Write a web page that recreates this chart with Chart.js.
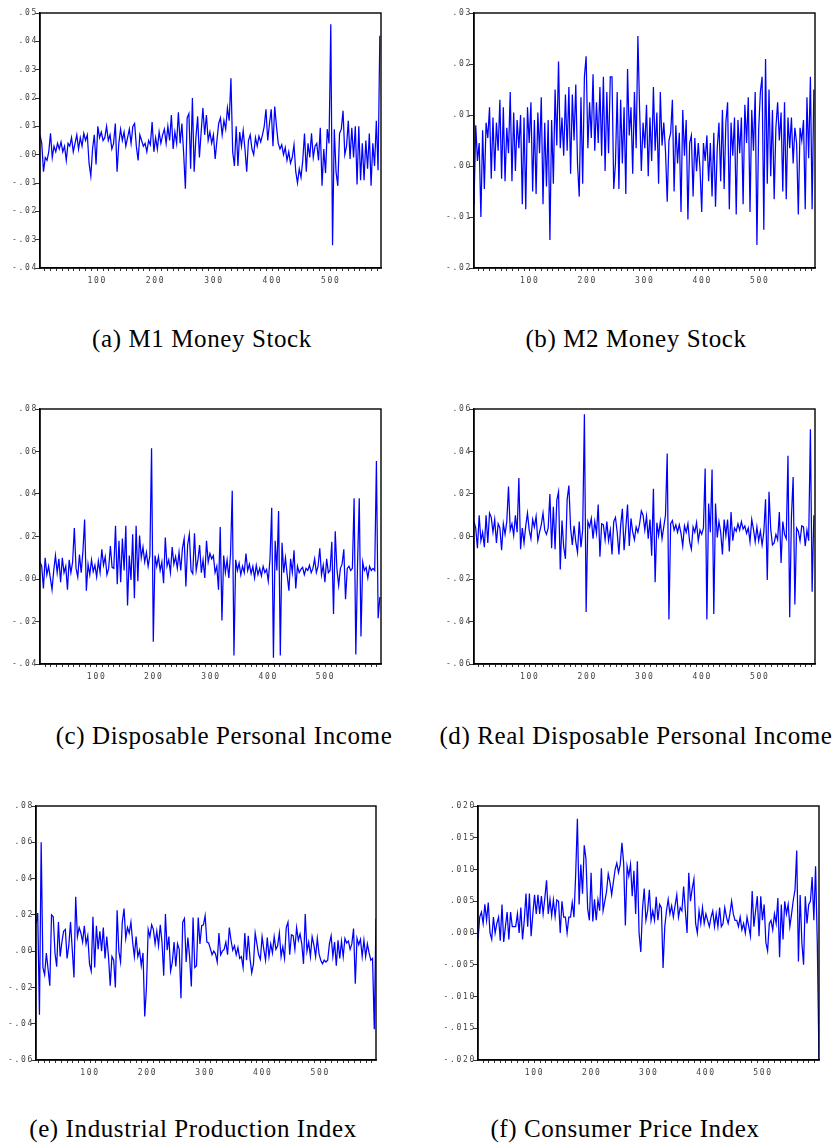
<!DOCTYPE html>
<html><head><meta charset="utf-8">
<script src="https://cdn.jsdelivr.net/npm/chart.js@4/dist/chart.umd.min.js"></script>
<style>
html,body{margin:0;padding:0;background:#fff;}
body{position:relative;width:839px;height:1146px;overflow:hidden;}
canvas{position:absolute;}
.cap{position:absolute;font-family:"Liberation Serif","Times New Roman",serif;font-size:25px;letter-spacing:0.6px;line-height:26px;white-space:nowrap;color:#000;transform:translateX(-50%);}
</style></head><body>
<script>
// ---- data: observation index (every 3rd month) and growth rates ----
const STEP = 3;
const xLabelTicks = [100, 200, 300, 400, 500];

const m1Start = 2;
const m1Values = [
.007,.004,-.006,-.001,-.002,.001,.0075,-.001,.003,.001,
.004,.002,.0045,.001,.003,-.002,.004,.003,.006,.001,
.004,.007,.002,.006,.003,.0075,.005,.007,-.003,-.0075,
.002,.007,-.0035,.01,.006,.008,.005,.006,.01,.005,
.007,.002,.004,.011,-.006,.004,.009,.005,.008,.003,
.006,.009,.004,.01,.011,.003,-.002,.007,.005,.003,
.004,.001,.005,.0035,.0115,.001,.006,.002,.008,.004,
.007,.009,.004,.01,.005,.014,.002,.008,.004,.015,
.004,.011,.0005,-.012,.013,.0145,-.005,.02,-.006,.006,
.0135,-.001,.008,.0165,.007,.014,.005,.008,.004,.007,
-.0015,.005,.011,.013,.007,.012,.009,.0165,.012,.027,
.001,-.004,.01,-.004,.008,.003,.0085,.002,-.006,.005,
.007,.002,0,.006,.003,.0065,.0045,.007,.01,.016,
.005,.011,.016,.003,.017,.01,.004,.002,.0035,0,
.0025,-.002,.001,-.003,-.001,.0035,-.006,-.01,-.005,-.008,
-.002,.0075,-.006,.004,-.001,.0075,-.001,.003,.004,-.002,
.0095,-.011,.002,-.0065,.009,.004,.046,-.032,.009,-.006,
-.011,.0075,.009,.0155,0,.003,.012,-.0015,.0095,-.001,
.01,-.0105,.01,-.009,.004,-.009,.005,-.005,.0075,-.011,
.004,-.004,.012,-.0055,.042
];

const m2Start = 3;
const m2Values = [
-.0075,.008,.001,.0045,-.01,.007,-.0045,.0085,.0055,.0115,
-.0025,.0095,-.001,.0085,.003,.013,-.0025,.0115,-.003,.0075,
.0025,.0145,-.003,.0105,-.001,.009,.0035,.01,-.0075,.0095,
-.0085,.0115,.0045,.0125,-.005,.009,-.0055,.0105,.0025,.0135,
-.0075,.0085,-.004,.009,-.0145,.009,-.0035,.015,.004,.0205,
.0035,.0095,.002,.014,.003,.0155,-.0015,.014,.005,.016,
.0005,-.006,.0135,-.0035,.0175,.0215,.0035,.0125,.0055,.018,
.003,.0125,.0045,.0155,.002,.0175,-.001,.0145,.0025,.0175,
.0175,-.0045,.0005,.0145,-.0045,.013,.0005,.0115,-.0055,.019,
.006,.0115,-.0015,.0145,.0035,.0255,.011,-.001,.0085,.0035,
.012,-.002,.0095,.001,.0155,.003,.0105,-.0035,.0145,.004,
.0085,.003,-.007,.005,.0065,.013,-.005,.008,.0005,.0065,
-.009,.011,.002,.009,-.0105,.0045,.006,-.006,.0055,-.001,
.0045,-.0005,-.009,.0045,.001,.006,-.003,.0045,-.006,.0065,
-.008,.0035,.0085,-.003,.011,-.0045,.0085,.0125,-.0085,.0085,
.002,.0095,-.0095,.009,.0025,.0095,-.0075,.012,.0045,.0135,
-.009,.011,.003,.0145,-.0155,.007,.0145,.0175,-.0125,.021,
-.0035,.015,-.002,.011,-.0065,.0075,.0125,.005,.0105,-.005,
.0125,-.0065,.0095,.0035,.0095,.0005,.0075,.0045,-.0095,.0075,
.005,.009,-.0085,.0135,.0015,.0175,-.0085,.015
];

const dpiStart = 1;
const dpiValues = [
.008,.006,-.0045,.01,.002,.006,.0005,-.005,.004,.011,
.003,.0095,-.0015,.01,.003,.006,-.005,.009,.003,.008,
.024,.005,.001,.0115,.003,.013,.028,-.0055,.007,.002,
.009,.0035,.0065,.001,.0085,.003,.014,.0065,.0105,.002,
.005,.0155,.0055,.005,.025,-.0025,.018,-.0015,.019,.004,
.025,-.0125,.011,-.0005,.021,-.009,.025,-.001,.0205,.01,
.015,.008,.0125,.006,.011,.0615,-.0295,.011,.006,.0105,
.004,.008,-.002,.0195,.006,.009,.003,.015,.007,.0105,
.005,.0125,.004,.0145,.019,-.0035,.016,.021,.004,.0025,
.0215,.004,.009,.016,.003,.009,.0005,.018,.008,.012,
.0095,.011,.003,.006,-.005,.0245,-.0195,.011,.003,.009,
.0005,.0115,.0415,-.036,.009,.004,.0075,.002,.006,.003,
.012,.004,.007,.0025,.006,.0005,.0065,.002,.005,.0015,
.006,.003,.0045,-.001,.0095,.0335,-.037,.018,.004,.032,
-.036,.017,.003,.01,.002,-.0055,.0095,.003,.0135,-.0045,
.006,.003,.0045,.0055,.002,.005,.004,.0065,.003,.005,
.0095,.003,.006,.0145,.002,.0065,-.0015,.0095,.003,.004,
.0175,-.0165,.0225,.0045,-.003,.005,.007,.014,-.0095,.005,
.006,.004,.005,.038,-.0355,.007,.038,-.027,.008,.004,
.0055,.0005,.006,.004,.005,.004,.0555,-.0185,-.0085
];

const rdpiStart = 3;
const rdpiValues = [
.007,.004,-.0055,.01,-.002,.002,-.005,.01,-.003,.011,
.009,.002,.008,-.003,.006,.004,-.0065,.006,.001,.007,
.0235,.003,.006,.0005,.01,.002,.0275,-.006,.004,-.003,
.005,.011,.003,-.001,.008,.0045,.0095,-.002,.002,.0055,
.011,.003,.001,.004,.02,-.0055,.014,-.006,.017,.021,
-.0155,.0075,-.005,-.0105,.0175,.024,.004,-.004,.005,-.0025,
-.0075,.007,-.005,.003,.0575,-.0355,.007,.0045,.0085,-.001,
.007,.0015,.015,-.0095,.006,.0055,-.0015,.007,-.002,.003,
-.0085,.007,.009,.002,-.0085,.005,.013,-.0065,.004,.015,
-.0045,.0085,.002,-.0015,.0045,.002,.006,.012,.01,.003,
.0095,-.001,.008,-.009,.0225,-.0215,.0065,.0005,.007,-.001,
.0045,.01,.039,-.039,.006,.0075,.003,.0055,.002,.0055,
.0015,-.0045,.005,.002,.006,-.0025,-.006,.0045,.002,.0065,
-.002,.003,.001,.004,.032,-.039,.0155,.002,.0315,-.0365,
.0155,-.0005,.007,.002,-.0085,.008,.0005,.008,-.007,.0115,
-.002,.004,.0025,.006,.003,.007,.0035,.005,.0015,.004,
-.0025,.008,.0035,-.0025,.0045,-.002,.0025,-.004,.002,.0175,
-.0205,.021,.0035,-.004,-.003,.001,-.0015,.0115,-.0125,.007,
.001,-.001,.038,-.038,.009,.028,-.032,.004,.0025,-.002,
.005,.0045,-.0045,.003,-.002,.0505,-.026,.01
];

const ipStart = 6;
const ipValues = [
.015,.021,-.035,.06,-.009,-.013,-.001,-.01,-.019,.02,
.019,-.001,-.0085,.016,-.003,.005,.011,.012,-.004,.003,
.016,.001,-.0145,.03,.008,.013,.01,.005,.014,.004,
.0085,-.007,-.011,.019,-.009,.014,.001,.011,0,.013,
-.004,.008,-.003,-.019,-.003,-.005,-.02,.0225,0,-.006,
.016,.0235,.007,.013,.01,.016,.005,-.003,.008,-.003,
.0005,-.008,-.001,-.036,-.02,.012,.008,.0145,.012,.004,
.011,.003,.0145,.005,-.0135,.0205,.0005,.008,-.011,-.006,
.005,-.0085,.004,.001,-.026,.016,.018,-.006,.0075,-.003,
-.0195,.0185,-.009,-.008,.0185,.004,.014,.0145,.0195,.005,
.0045,.0015,-.002,0,-.0015,-.006,.01,-.002,0,.001,
.005,-.002,.013,.006,.0005,.003,-.002,.002,-.004,-.003,
-.009,.01,-.005,.0085,-.004,-.012,-.007,.01,.004,-.002,
-.0045,.008,.001,-.005,.0075,-.003,.004,-.001,.008,.001,
.003,.01,-.003,.0025,-.004,.013,.016,-.002,.009,.0085,
.001,.013,.006,.0095,.004,-.007,.0205,0,.005,-.003,
.008,.0035,-.003,.007,-.0015,-.005,-.007,-.005,-.006,-.005,
.004,.0085,-.003,.005,-.008,.006,-.004,.0055,-.003,.007,
.0045,.0055,.001,.004,.0125,-.018,.007,.0035,.0065,-.003,
.006,-.003,.004,-.001,-.005,-.004,-.043,.018
];

const cpiStart = 1;
const cpiValues = [
-.001,.0025,.0033,.0015,.0045,.002,.0048,0,-.001,.0025,
0,.0015,.0025,-.0012,.0045,-.0014,.001,.0033,-.001,.0033,
.001,.001,.001,.003,0,.004,-.001,.002,.0062,.001,
.0062,-.0005,.003,.006,.003,.006,.003,.0058,.003,.0055,
.0083,.003,.0053,.0027,.0052,.0026,.0052,.005,0,.005,
.0025,.0025,0,.0025,.0025,.0048,.0025,.0092,.018,.0045,
.0108,.0062,.0138,.0117,.0038,.002,.0095,.0018,.0053,.002,
.0052,.0035,.0102,.0035,.005,.0065,.0093,.008,.006,.008,
.01,.011,.0095,.0108,.0142,.011,.0012,.0105,.009,.0108,
.0058,.0098,.003,.0113,0,-.003,.0038,.007,.002,.0035,
.0068,.002,.0035,.002,.0057,.002,.0045,.004,-.0055,.001,
.0035,.0053,.003,.0043,.0025,.0043,.006,.0025,.004,.0035,
.0073,.0035,0,.0095,.005,.007,.0085,.0015,0,.0035,
.0015,.004,.0015,.003,.002,.001,.0025,.0035,.001,.003,
.001,.004,.001,.0015,.004,.0025,.0015,.003,.005,.003,
.002,.002,.001,.0025,.0005,.0015,0,.0025,.001,-.0005,
.0066,.001,.0035,.0058,-.0005,.0058,.002,.0045,-.0015,-.0028,
.0015,.002,.0005,.003,.0015,.0055,-.0038,.0045,-.001,.005,
.003,.0045,.001,.003,.0052,.0068,.013,-.0045,.006,-.0015,
-.005,.0058,.0015,.0045,.005,.0088,.002,.0105,-.0015,-.02
];

const captions = [
  "(a) M1 Money Stock", "(b) M2 Money Stock",
  "(c) Disposable Personal Income", "(d) Real Disposable Personal Income",
  "(e) Industrial Production Index", "(f) Consumer Price Index"
];

// ---- layout (plot boxes in page px) ----
const panels = [
  {values:m1Values,   start:m1Start,   xMin:2, xMax:586, yMin:-.04, yMax:.05, yStep:.01,  dec:2, box:[40,13,381,268],   cap:[202,340]},
  {values:m2Values,   start:m2Start,   xMin:3, xMax:596, yMin:-.02, yMax:.03, yStep:.01,  dec:2, box:[474,13,815,268],  cap:[636,340]},
  {values:dpiValues,  start:dpiStart,  xMin:1, xMax:597, yMin:-.04, yMax:.08, yStep:.02,  dec:2, box:[40,409,381,664],  cap:[224,737]},
  {values:rdpiValues, start:rdpiStart, xMin:3, xMax:596, yMin:-.06, yMax:.06, yStep:.02,  dec:2, box:[474,409,815,664], cap:[636,737]},
  {values:ipValues,   start:ipStart,   xMin:6, xMax:597, yMin:-.06, yMax:.08, yStep:.02,  dec:2, box:[36,806,376,1060], cap:[193,1130]},
  {values:cpiValues,  start:cpiStart,  xMin:1, xMax:598, yMin:-.02, yMax:.02, yStep:.005, dec:3, box:[478,806,819,1060],cap:[625,1130]}
];

const Y_AXIS_W = 45, X_AXIS_H = 30, PAD_T = 8, PAD_R = 8;
const LS = '1.7px';

function fmtTick(v, d) {
  const s = Math.abs(v) < 1e-9 ? (0).toFixed(d) : v.toFixed(d);
  return s.replace(/^(-?)0\./, '$1.');
}

const framePlugin = {
  id: 'frame',
  beforeLayout(chart) { chart.ctx.letterSpacing = LS; },
  beforeDraw(chart) { chart.ctx.letterSpacing = LS; },
  afterDraw(chart) {
    const {ctx, chartArea: a} = chart;
    ctx.save();
    ctx.strokeStyle = '#000';
    ctx.lineWidth = 1.4;
    ctx.strokeRect(a.left, a.top, a.right - a.left, a.bottom - a.top);
    ctx.restore();
  }
};

const tickFont = {family: '"DejaVu Sans Mono", monospace', size: 8};

panels.forEach((p, k) => {
  const [L, T, R, B] = p.box;
  const cv = document.createElement('canvas');
  const w = (R - L) + Y_AXIS_W + PAD_R;
  const h = (B - T) + PAD_T + X_AXIS_H;
  cv.width = w; cv.height = h;
  cv.style.left = (L - Y_AXIS_W) + 'px';
  cv.style.top = (T - PAD_T) + 'px';
  cv.style.width = w + 'px'; cv.style.height = h + 'px';
  document.body.appendChild(cv);

  const pts = p.values.map((y, i) => ({x: p.start + STEP * i, y}));

  new Chart(cv.getContext('2d'), {
    type: 'line',
    data: {datasets: [{
      data: pts, borderColor: '#0000ff', borderWidth: 1.25,
      pointRadius: 0, tension: 0, fill: false, clip: 0
    }]},
    options: {
      responsive: false, animation: false, devicePixelRatio: 1,
      layout: {padding: {top: PAD_T, right: PAD_R, left: 0, bottom: 0}},
      plugins: {legend: {display: false}, tooltip: {enabled: false}},
      scales: {
        x: {
          type: 'linear', min: p.xMin, max: p.xMax,
          border: {display: true, color: '#000', width: 1.4},
          grid: {display: true, drawOnChartArea: false, drawTicks: true, tickLength: 3, color: '#333', lineWidth: 1},
          ticks: {
            stepSize: 10, includeBounds: false, autoSkip: false, maxRotation: 0, minRotation: 0,
            padding: 5, color: '#444', font: tickFont,
            callback: v => xLabelTicks.includes(Math.round(v)) ? String(Math.round(v)) : ''
          },
          afterFit: s => { s.height = X_AXIS_H; }
        },
        y: {
          type: 'linear', min: p.yMin, max: p.yMax,
          border: {display: true, color: '#000', width: 1.4},
          grid: {display: true, drawOnChartArea: false, drawTicks: true, tickLength: 5, color: '#333', lineWidth: 1},
          ticks: {
            stepSize: p.yStep, includeBounds: false, autoSkip: false,
            padding: -3, color: '#444', font: tickFont,
            callback: v => fmtTick(v, p.dec)
          },
          afterFit: s => { s.width = Y_AXIS_W; }
        }
      }
    },
    plugins: [framePlugin]
  });

  const c = document.createElement('div');
  c.className = 'cap';
  c.textContent = captions[k];
  c.style.left = p.cap[0] + 'px';
  c.style.top = (p.cap[1] - 14) + 'px';
  document.body.appendChild(c);
});
</script>
</body></html>
